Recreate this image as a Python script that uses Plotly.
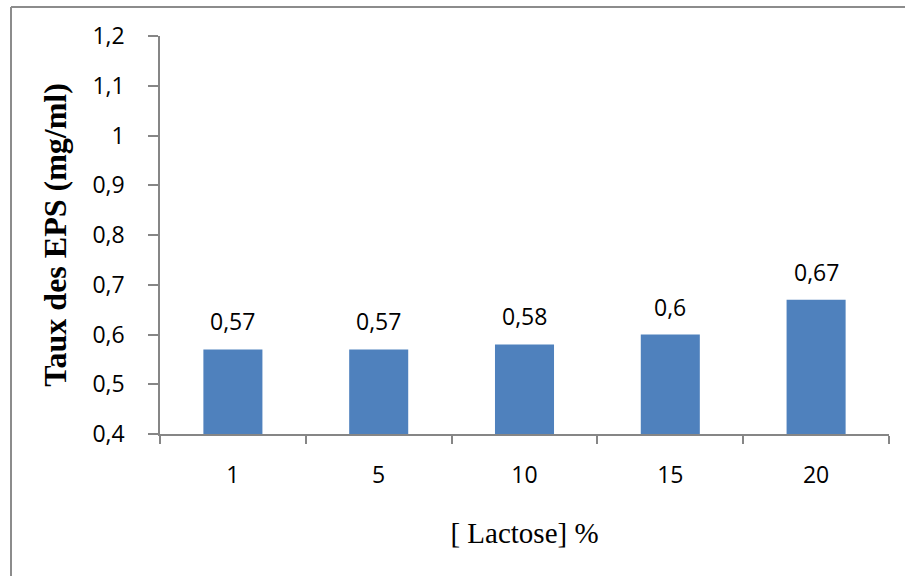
import plotly.graph_objects as go

# Lactose concentration (%) and EPS yield (mg/ml)
lactose = ["1", "5", "10", "15", "20"]
eps = [0.57, 0.57, 0.58, 0.60, 0.67]
y_ticks = [0.4, 0.5, 0.6, 0.7, 0.8, 0.9, 1.0, 1.1, 1.2]

W, H = 905, 576
L, R, T, B = 160, 16, 36, 142
axis_col = "#868686"
tick_font = dict(family="Open Sans", size=23, color="#000000")


def fr(v):
    return f"{v:g}".replace(".", ",")


fig = go.Figure(
    go.Bar(
        x=lactose,
        y=eps,
        marker=dict(color="#4F81BD", line=dict(width=0)),
        width=0.405,
        hoverinfo="skip",
    )
)

# value labels above each bar (category index positions)
for i, val in enumerate(eps):
    fig.add_annotation(
        x=i, y=val, text=fr(val),
        showarrow=False, yanchor="bottom", yshift=10,
        font=tick_font,
    )

fig.update_layout(
    width=W, height=H,
    margin=dict(l=L, r=R, t=T, b=B),
    paper_bgcolor="white", plot_bgcolor="white",
    showlegend=False,
    xaxis=dict(
        type="category",
        range=[-0.5, len(lactose) - 0.5],
        showline=True, linecolor=axis_col, linewidth=1.5,
        ticks="outside", tickson="boundaries", ticklen=8,
        tickcolor=axis_col, tickwidth=1.5,
        tickfont=tick_font, ticklabelstandoff=20,
        showgrid=False, zeroline=False,
        title=dict(text="[ Lactose] %", standoff=33,
                   font=dict(family="Liberation Serif", size=29, color="#000000")),
    ),
    yaxis=dict(
        range=[0.4, 1.2],
        tickvals=y_ticks,
        ticktext=[fr(v) for v in y_ticks],
        showline=True, linecolor=axis_col, linewidth=1.5,
        ticks="outside", ticklen=10, tickcolor=axis_col, tickwidth=1.5,
        tickfont=tick_font, ticklabelstandoff=19,
        showgrid=False, zeroline=False,
        title=dict(text="<b>Taux des EPS (mg/ml)</b>", standoff=16,
                   font=dict(family="Liberation Serif", size=32, color="#000000")),
    ),
)

# outer frame lines (top and left edges of the chart area)
pw, ph = W - L - R, H - T - B
fig.add_shape(type="line", xref="paper", yref="paper",
              x0=-(L - 11) / pw, x1=1 + R / pw,
              y0=1 + (T - 7) / ph, y1=1 + (T - 7) / ph,
              line=dict(color="#8C8C8C", width=2))
fig.add_shape(type="line", xref="paper", yref="paper",
              x0=-(L - 11) / pw, x1=-(L - 11) / pw,
              y0=1 + (T - 7) / ph, y1=-B / ph,
              line=dict(color="#8C8C8C", width=2))

fig.write_html("out.html")
